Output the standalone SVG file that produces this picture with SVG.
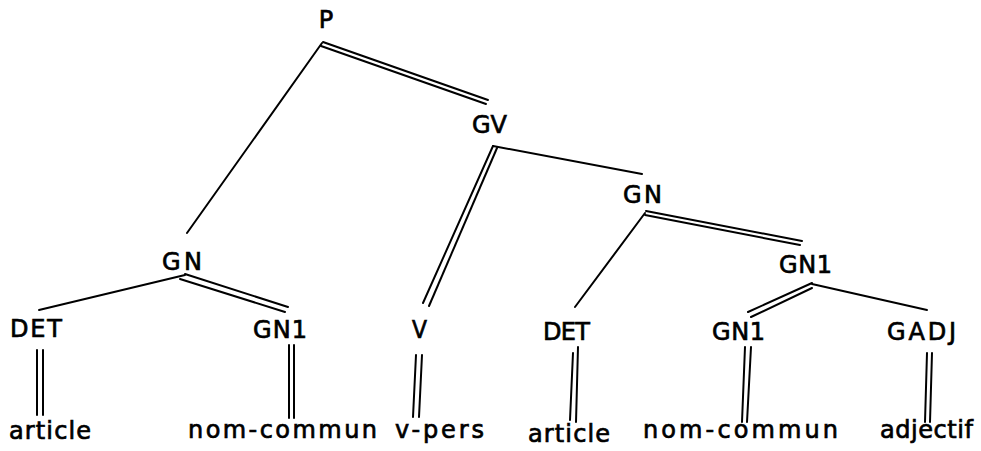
<svg xmlns="http://www.w3.org/2000/svg" width="981" height="451" viewBox="0 0 981 451">
<style>
text{font-family:"DejaVu Sans","Liberation Sans",Arial,sans-serif;font-size:24px;fill:#000;stroke:#000;stroke-width:0.7}
.c line{stroke:#000;stroke-width:2;stroke-linecap:round}
</style>
<rect width="981" height="451" fill="#fff"/>
<g class="c" id="connectors">
<line x1="322" y1="43" x2="187" y2="233"/>
<line x1="323" y1="42" x2="488" y2="100"/>
<line x1="321" y1="46" x2="486" y2="104"/>
<line x1="493" y1="146" x2="642" y2="174"/>
<line x1="493" y1="146" x2="423" y2="303"/>
<line x1="497" y1="148" x2="429" y2="306"/>
<line x1="645" y1="213" x2="575" y2="307"/>
<line x1="646" y1="211" x2="802" y2="241"/>
<line x1="645" y1="215" x2="800" y2="245"/>
<line x1="812" y1="283" x2="748" y2="312"/>
<line x1="812" y1="288" x2="751" y2="317"/>
<line x1="812" y1="284" x2="927" y2="310"/>
<line x1="185" y1="275" x2="39" y2="310"/>
<line x1="185" y1="274" x2="288" y2="307"/>
<line x1="180" y1="279" x2="285" y2="312"/>
<line x1="37" y1="350" x2="37" y2="415"/>
<line x1="43" y1="350" x2="43" y2="415"/>
<line x1="289" y1="345" x2="289" y2="418"/>
<line x1="294" y1="345" x2="294" y2="418"/>
<line x1="416" y1="355" x2="413" y2="417"/>
<line x1="422" y1="355" x2="419" y2="417"/>
<line x1="573" y1="353" x2="570" y2="420"/>
<line x1="578" y1="347" x2="576" y2="422"/>
<line x1="745" y1="347" x2="742" y2="422"/>
<line x1="751" y1="347" x2="747" y2="422"/>
<line x1="927" y1="353" x2="925" y2="422"/>
<line x1="932" y1="353" x2="930" y2="422"/>
</g>
<g id="n-P"><text x="326" y="28" text-anchor="middle">P</text></g>
<g id="n-GV"><text x="472" y="133" textLength="35" lengthAdjust="spacingAndGlyphs">GV</text></g>
<g id="n-GN-left"><text x="162" y="270" textLength="40" lengthAdjust="spacing">GN</text></g>
<g id="n-GN-right"><text x="623" y="203" textLength="39" lengthAdjust="spacing">GN</text></g>
<g id="n-GN1-right"><text x="779" y="273" textLength="53" lengthAdjust="spacing">GN1</text></g>
<g id="n-DET-left"><text x="10" y="337" textLength="52" lengthAdjust="spacing">DET</text></g>
<g id="n-GN1-left"><text x="253" y="338" textLength="54" lengthAdjust="spacing">GN1</text></g>
<g id="n-V"><text x="412" y="338" textLength="15" lengthAdjust="spacingAndGlyphs">V</text></g>
<g id="n-DET-mid"><text x="543" y="340" textLength="47" lengthAdjust="spacing">DET</text></g>
<g id="n-GN1-low"><text x="712" y="340" textLength="53" lengthAdjust="spacing">GN1</text></g>
<g id="n-GADJ"><text x="887" y="340" textLength="69" lengthAdjust="spacing">GADJ</text></g>
<g id="n-article-left"><text x="9" y="439" textLength="82" lengthAdjust="spacing">article</text></g>
<g id="n-nomcommun-left"><text x="188" y="438" textLength="189" lengthAdjust="spacing">nom-commun</text></g>
<g id="n-vpers"><text x="395" y="438" textLength="89" lengthAdjust="spacing">v-pers</text></g>
<g id="n-article-mid"><text x="528" y="442" textLength="82" lengthAdjust="spacing">article</text></g>
<g id="n-nomcommun-right"><text x="643" y="438" textLength="195" lengthAdjust="spacing">nom-commun</text></g>
<g id="n-adjectif"><text x="880" y="438" textLength="93" lengthAdjust="spacing">adjectif</text></g>
</svg>
